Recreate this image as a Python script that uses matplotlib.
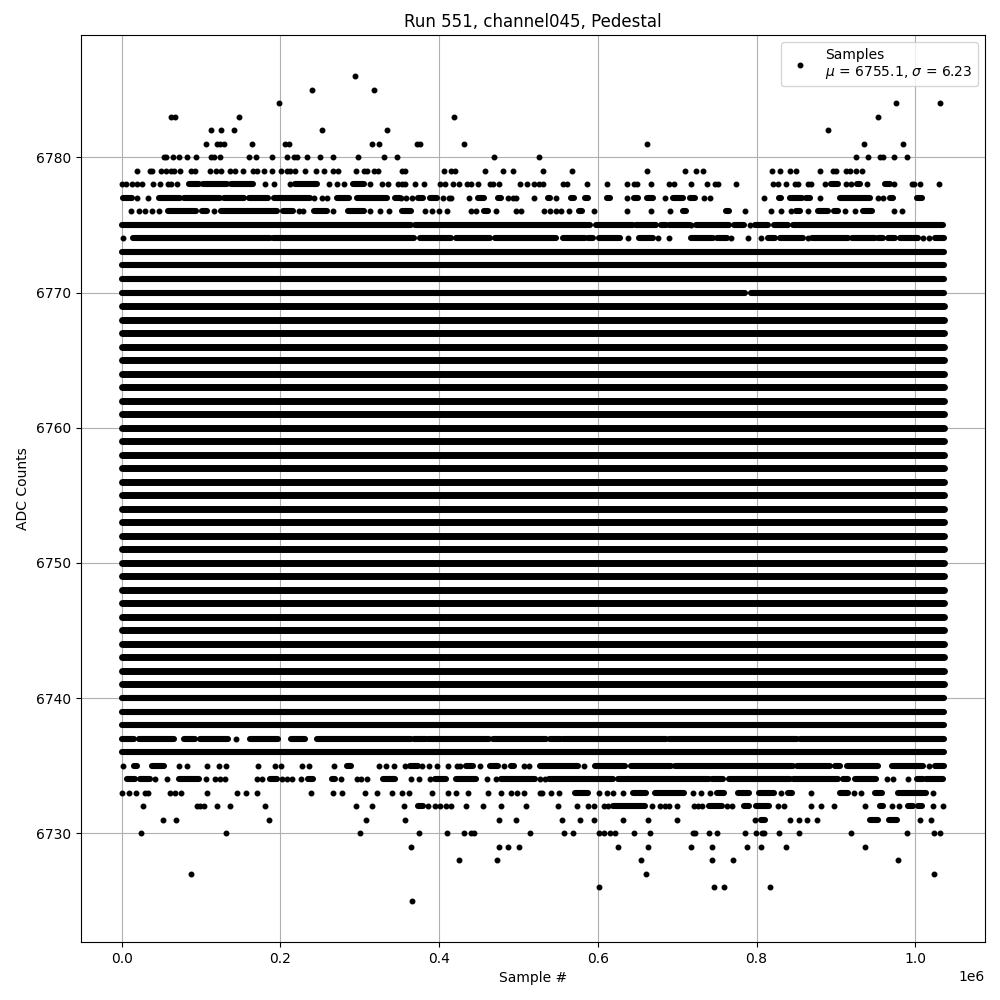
import matplotlib
matplotlib.use("Agg")
import matplotlib.pyplot as plt

# pts_NNNN: isolated samples at ADC level NNNN.
# runs_NNNN: (start, end) extents where samples at that level overlap into a
# continuous band; they are too dense to read individually, so each is drawn as
# one stroke of marker width rather than as individual samples.
pts_6786 = [293.6]
pts_6785 = [239.4, 317.5]
pts_6784 = [197.8, 976, 1031.5]
pts_6783 = [62.6, 67.2, 147.4, 418.9, 953.5]
pts_6782 = [112, 124.7, 141, 252, 334, 890.6]
pts_6781 = [105.8, 119.7, 123.5, 128.5, 163.8, 205.4, 210.8, 316, 323.8, 372.7, 376, 431.5, 662, 935.9, 985]
pts_6780 = [52.9, 56.3, 64.3, 71.8, 82.7, 93.2, 112, 116, 123.5, 160, 168.8, 189.4, 207.9, 216.7, 221, 233,
            249.5, 265.9, 297.4, 330, 346.5, 469.3, 526, 925.8, 940.9, 955.6, 959, 973.6, 990]
pts_6779 = [18.9, 35.3, 38.2, 49, 55.4, 61.7, 66.4, 73, 87.4, 92, 110.9, 118.4, 124.7, 136, 142.4, 152.5, 165,
            170.5, 178.9, 189, 201, 208.3, 212.5, 219, 230.6, 244.9, 254.5, 265.9, 273, 294.8, 306, 309, 317.5,
            322.6, 353.8, 356.7, 406.3, 415.5, 420.6, 458, 481, 493, 531, 567.6, 662, 710, 723.8, 732, 818.9,
            829, 841.5, 850.3, 880.5, 896.9, 900, 912.8, 918, 925.8, 933]
pts_6778 = [0, 5.9, 13, 19.3, 25.6, 39, 48.7, 58, 62.6, 69.7, 181, 192, 212, 260.8, 271, 279.6, 312.5, 328, 335,
            347.8, 353.8, 356.7, 369.3, 380.7, 401.7, 408, 417.6, 424.8, 435, 440.7, 449, 463.8, 468, 475.6,
            502, 511, 519, 526, 531, 556, 561.7, 586.5, 611.7, 636.9, 645.7, 649.5, 666.7, 689.8, 696, 717.5,
            738, 748, 752, 773.6, 820.5, 826.4, 837.7, 847.8, 851.6, 865.4, 868.3, 886.8, 912.8, 919, 939.6,
            973.6, 995.4, 998, 1006, 1030]
runs_6778 = [(84.4, 97), (103, 132.7), (138, 166), (219, 246), (292, 305), (893.5, 903), (926.2, 930.4), (961.8, 968)]
pts_6777 = [20, 32.8, 242, 252, 258.7, 351.7, 358.4, 366.4, 405, 412, 415.5, 437.8, 487, 493, 496.6, 519.7, 547,
            636.9, 684.8, 733.3, 740.9, 808.8, 880.5, 953.5, 959.8]
runs_6777 = [(1.7, 13), (46.6, 74), (78, 123.5), (128.5, 154.6), (160, 185), (191.5, 237.7), (271, 286), (297, 334),
             (345, 351), (373.6, 380), (388, 397.5), (449, 456), (474, 478.5), (537, 540), (566, 569.7), (583.5, 587.7),
             (611.7, 615), (645.7, 650.7), (662, 669.6), (694.8, 707), (715.8, 722), (827.7, 831), (842.4, 857),
             (862.5, 867.5), (905, 943), (968, 972), (1001.7, 1008)]
pts_6776 = [11.3, 21.4, 29, 38.2, 46.6, 116, 223, 229, 266, 312.5, 325, 336.4, 382.8, 391, 400, 410, 440, 446.6,
            471.8, 497.4, 503.7, 532.3, 539.9, 547.4, 553.7, 563.4, 595.3, 636.9, 667, 691, 785, 817.6, 831.4,
            842.8, 865.4, 912, 924.5, 973.6, 983.6]
runs_6776 = [(59, 94), (101, 108), (125.6, 195.7), (203, 216), (242, 258.7), (284.8, 305), (353.6, 365), (456.7, 461.7),
             (576.4, 580.6), (707.4, 711.6), (761.8, 764.8), (850, 855), (878, 890.6), (897.7, 903), (933.8, 945)]
pts_6775 = [718, 792]
runs_6775 = [(1, 365), (369.3, 589.8), (598, 644), (648.6, 673.8), (680, 686), (690, 716), (724, 764.8), (771, 783.6),
             (798, 815), (822, 840), (846.5, 1035)]
pts_6774 = [1.3, 638, 676, 689.8, 767.7, 788.7, 806, 865, 1010, 1017.6]
runs_6774 = [(13.9, 187), (191, 369), (375.6, 415.5), (421.8, 463.8), (470, 547.8), (556, 583.5), (587.7, 594),
             (601.6, 627.6), (652, 669.6), (718, 745), (750, 762.7), (813.8, 823.5), (829, 859), (869.6, 915.7),
             (920, 949), (953.5, 959.8), (966, 974), (980.7, 1003.8), (1024.7, 1036)]
# Levels drawn as one uninterrupted band across the whole run
solid_levels = [6773, 6772, 6771, 6769, 6768, 6767, 6766, 6765, 6764, 6763, 6762, 6761, 6760, 6759, 6758, 6757,
                6756, 6755, 6754, 6753, 6752, 6751, 6750, 6749, 6748, 6747, 6746, 6745, 6744, 6743, 6742, 6741,
                6740, 6739, 6738, 6736]
solid_extent = (0, 1036)
runs_6770 = [(0, 785), (793.5, 1036)]
pts_6737 = [144]
runs_6737 = [(0, 15), (21.4, 65.4), (78, 92.7), (99, 134.6), (161.8, 197.5), (214, 231), (245.7, 365), (369, 384),
             (386, 451), (453, 463), (468, 535), (540, 554), (556, 686), (690, 850.7), (855, 1036)]
pts_6735 = [1.3, 71.7, 82.6, 107, 123, 132, 172, 193.7, 201, 227.7, 236.5, 268, 324.5, 333.3, 343.4, 356.8, 378.6,
            387, 397.5, 411, 422, 426, 451.6, 481.9, 507, 513, 582.6, 1017]
runs_6735 = [(15, 19.3), (38, 52.8), (284, 288.5), (363, 373.5), (434.4, 442.8), (463.8, 474), (491, 495), (526.8, 575),
             (596, 634), (642, 692.6), (697, 846.5), (850.7, 892.7), (899, 905), (913.6, 953.5), (970, 1010), (1024.7, 1036)]
pts_6734 = [42.3, 56.6, 106, 117.4, 124.5, 130.8, 170, 177, 202.5, 208, 215, 226.4, 276, 296, 301, 309.4, 364.7, 374.8,
            389, 460, 472, 526.8, 533, 964, 971.5, 991]
runs_6734 = [(6.7, 17.2), (23.5, 36), (71.7, 96.9), (187, 195.4), (235, 241.5), (264.6, 268.8), (329.6, 344),
             (395.4, 409), (421.8, 447), (478.5, 520.5), (539, 619), (625, 739.6), (743.8, 757.7), (764.8, 842),
             (845.7, 903), (908.6, 915.7), (924, 951), (1001.7, 1010), (1014, 1035)]
pts_6733 = [0, 8.8, 17.6, 29.8, 33, 60.4, 66.7, 74.2, 108, 146, 157, 171, 239, 266.7, 278, 307, 322, 341, 353.4, 362,
            391, 411, 421.8, 436.5, 461, 478, 490, 498, 507, 526.8, 530, 541, 551, 602, 611.6, 619, 631.7, 720, 730,
            741.7, 831.4, 868, 923.3, 931, 1022.6]
runs_6733 = [(570.9, 587.7), (644, 661), (671.6, 709), (750, 759), (777, 791), (802.5, 821.4), (840, 844.4), (905, 915.7),
             (949, 957.7), (978.6, 1014)]
pts_6732 = [26.4, 94.8, 99, 103.6, 120.8, 137, 181, 295.6, 315.7, 356, 386, 395.4, 400.8, 409, 415.5, 434, 455.4, 478,
            509.6, 550, 573.8, 587.7, 595, 607.4, 612.8, 668, 678, 684, 689.7, 699.7, 721, 726, 731, 762.7, 769, 826.4,
            834, 869, 880.6, 897, 936, 971, 980, 1022.6, 1035]
runs_6732 = [(373.6, 380), (619, 659), (739.5, 756), (783.6, 791), (799.6, 816), (955.6, 959.8), (991, 996.6), (1003.8, 1009)]
pts_6731 = [51.6, 68, 186, 308, 357, 475.6, 497, 555, 577.6, 595, 631.7, 663, 699.7, 797.5, 841.5, 854, 864, 876.7, 1006, 1020]
runs_6731 = [(805.5, 811), (943.4, 953.5), (967, 976.5)]
pts_6730 = [24, 132, 300.6, 374.8, 410, 431.5, 440.7, 443.7, 514.6, 557.4, 568.8, 601.5, 607.8, 615.4, 622, 645.6, 665.7,
            720, 722.4, 739.6, 750, 785, 798.7, 806.7, 808.8, 827.7, 854, 919.5, 990, 1024, 1031.5]
pts_6729 = [364.7, 475.6, 487, 500.8, 625.4, 663, 717.8, 743.4, 787.4, 805, 836.5, 936]
pts_6728 = [425, 473, 654.4, 743.4, 769.8, 978.6]
pts_6727 = [86.8, 660.7, 1024]
pts_6726 = [601.5, 746, 758.6, 816.4]
pts_6725 = [366]

all_pts = [(6786, pts_6786), (6785, pts_6785), (6784, pts_6784), (6783, pts_6783), (6782, pts_6782), (6781, pts_6781),
           (6780, pts_6780), (6779, pts_6779), (6778, pts_6778), (6777, pts_6777), (6776, pts_6776), (6775, pts_6775),
           (6774, pts_6774), (6737, pts_6737), (6735, pts_6735), (6734, pts_6734), (6733, pts_6733), (6732, pts_6732),
           (6731, pts_6731), (6730, pts_6730), (6729, pts_6729), (6728, pts_6728), (6727, pts_6727), (6726, pts_6726),
           (6725, pts_6725)]
all_runs = [(6778, runs_6778), (6777, runs_6777), (6776, runs_6776), (6775, runs_6775), (6774, runs_6774),
            (6770, runs_6770), (6737, runs_6737), (6735, runs_6735), (6734, runs_6734), (6733, runs_6733),
            (6732, runs_6732), (6731, runs_6731)]
all_runs += [(lvl, [solid_extent]) for lvl in solid_levels]

legend_label = "Samples\n$\\mu$ = 6755.1, $\\sigma$ = 6.23"

fig, ax = plt.subplots(figsize=(10, 10), dpi=100)

xs = [k * 1e3 for lvl, p in all_pts for k in p]
ys = [lvl for lvl, p in all_pts for k in p]
ax.plot(xs, ys, "k.", ms=6.5, label=legend_label)

for lvl, runs in all_runs:
    width = 5.0 if 6741 <= lvl <= 6769 else 4.4
    for start, end in runs:
        ax.plot([start * 1e3, end * 1e3], [lvl, lvl], color="k", lw=width, solid_capstyle="round")

ax.set_title("Run 551, channel045, Pedestal")
ax.set_xlabel("Sample #")
ax.set_ylabel("ADC Counts")
ax.grid(True)
ax.legend(loc="upper right")
fig.subplots_adjust(left=0.0805, right=0.985, top=0.965, bottom=0.058)
fig.savefig("out.png", dpi=100)
